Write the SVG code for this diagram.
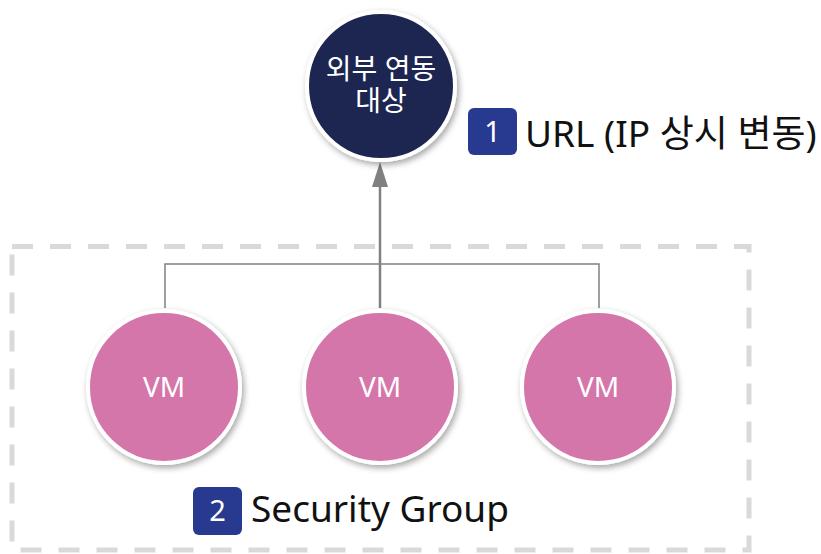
<svg xmlns="http://www.w3.org/2000/svg" width="821" height="554" viewBox="0 0 821 554">
  <style>
    .lbl { font-family: "Noto Sans", "Noto Sans CJK KR", sans-serif; }
    .node-text { fill: #ffffff; text-anchor: middle; }
    .caption { fill: #111111; }
    .badge rect { fill: #283a90; }
    .badge text { fill: #ffffff; font-size: 29px; text-anchor: middle; }
    .vm circle { fill: #d576ab; stroke: #ffffff; stroke-width: 4; }
    .vm text { font-size: 28px; }
    .wire { fill: none; stroke: #808080; }
  </style>
  <defs>
    <filter id="shadow" x="-20%" y="-20%" width="150%" height="150%">
      <feDropShadow dx="2" dy="3" stdDeviation="3" flood-color="#000000" flood-opacity="0.35"/>
    </filter>
  </defs>

  <!-- security group boundary -->
  <rect id="security-group" x="12" y="246.5" width="737" height="303.5" fill="none" stroke="#d9d9d9" stroke-width="5" stroke-dasharray="21 17"/>

  <!-- connectors -->
  <g id="connectors">
    <polyline class="wire" stroke-width="1.5" points="165,308 165,264 599,264 599,308"/>
    <line class="wire" stroke-width="2.5" x1="380" y1="308" x2="380" y2="186"/>
    <path d="M372,187 L380,162 L388,187 Z" fill="#808080"/>
  </g>

  <!-- external target -->
  <g id="external-target">
    <circle cx="381" cy="86" r="74" fill="#1f2551" stroke="#ffffff" stroke-width="4" filter="url(#shadow)"/>
    <text class="lbl node-text" font-size="28"><tspan x="381" y="79">외부 연동</tspan><tspan x="381" y="111">대상</tspan></text>
  </g>

  <!-- virtual machines -->
  <g id="vm-1" class="vm">
    <circle cx="164" cy="387" r="76" filter="url(#shadow)"/>
    <text class="lbl node-text" x="164" y="397">VM</text>
  </g>
  <g id="vm-2" class="vm">
    <circle cx="380" cy="387" r="76" filter="url(#shadow)"/>
    <text class="lbl node-text" x="380" y="397">VM</text>
  </g>
  <g id="vm-3" class="vm">
    <circle cx="598" cy="387" r="76" filter="url(#shadow)"/>
    <text class="lbl node-text" x="598" y="397">VM</text>
  </g>

  <!-- legend captions -->
  <g id="caption-1">
    <g class="badge">
      <rect x="468" y="108" width="49" height="47" rx="6"/>
      <text class="lbl" x="492.5" y="142">1</text>
    </g>
    <text class="lbl caption" x="525" y="147" font-size="37">URL (IP 상시 변동)</text>
  </g>
  <g id="caption-2">
    <g class="badge">
      <rect x="193" y="487" width="49" height="48" rx="6"/>
      <text class="lbl" x="217.5" y="521">2</text>
    </g>
    <text class="lbl caption" x="251" y="522" font-size="37">Security Group</text>
  </g>
</svg>
